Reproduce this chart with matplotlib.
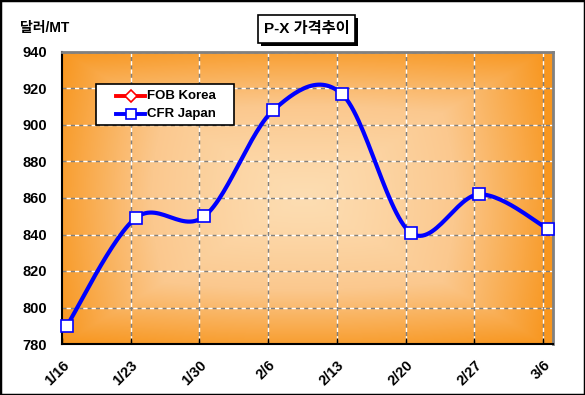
import numpy as np
import matplotlib
matplotlib.use("Agg")
import matplotlib.pyplot as plt
import matplotlib.transforms as mtrans
from matplotlib.lines import Line2D
from matplotlib.patches import Rectangle
from matplotlib.colors import LinearSegmentedColormap

plt.rcParams['font.family'] = ['Liberation Sans', 'Noto Sans CJK KR', 'DejaVu Sans']

dates = ["1/16", "1/23", "1/30", "2/6", "2/13", "2/20", "2/27", "3/6"]
cfr_japan = [790, 849, 850, 908, 917, 841, 862, 843]
fob_korea = [np.nan] * 8
series_names = ["FOB Korea", "CFR Japan"]
day_step = 7

W, H = 585, 395
fig = plt.figure(figsize=(5.85, 3.95), dpi=100)
fig.patch.set_facecolor('white')
fig.add_artist(Rectangle((0, 0), 1, 1, transform=fig.transFigure, fill=False,
                         edgecolor='black', linewidth=2.5))

def fx(px):
    return px / W

def fy(py):
    return 1 - py / H

ax = fig.add_axes([fx(62), fy(344), (553-62)/W, (344-52)/H])

xs = np.arange(len(dates)) * day_step + 0.5
xlo, xhi = 0, (len(dates) - 1) * day_step + 1.0
ylo, yhi = 780, 940

# gradient background (from center)
nx, ny = 400, 300
u = np.linspace(-1, 1, nx)
v = np.linspace(-1, 1, ny)
U, V = np.meshgrid(u, v)
T = np.clip(0.7 * np.maximum(np.abs(U), np.abs(V)) ** 1.4 + 0.3 * np.sqrt((U**2 + V**2) / 2), 0, 1)
cmap = LinearSegmentedColormap.from_list('g', ['#FDDDB2', '#FBC88E', '#F8961E'])
ax.imshow(T, cmap=cmap, extent=[xlo, xhi - 0.9, ylo, yhi], aspect='auto', zorder=0,
          interpolation='bilinear', vmin=0, vmax=1)
ax.add_patch(Rectangle((xhi - 0.95, ylo), 0.95, yhi - ylo, facecolor='#F8961E', edgecolor='none', zorder=0))

ax.set_xlim(xlo, xhi)
ax.set_ylim(ylo, yhi)

ticks_x = np.arange(len(dates)) * day_step
for yv in np.arange(800, 941, 20):
    ax.plot([xlo, xhi], [yv, yv], color='#808080', lw=1, dashes=(3, 3), zorder=1)
    ax.plot([xlo, xhi], [yv, yv], color='white', lw=1, dashes=(0, 3, 3, 0), zorder=1)
for xv in ticks_x[1:]:
    ax.plot([xv, xv], [ylo, yhi], color='#808080', lw=1, dashes=(3, 3), zorder=1)
    ax.plot([xv, xv], [ylo, yhi], color='white', lw=1, dashes=(0, 3, 3, 0), zorder=1)

def smooth(xp, yp, n=30):
    xp = np.asarray(xp, float); yp = np.asarray(yp, float)
    P = np.column_stack([xp, yp])
    out = []
    for i in range(len(P) - 1):
        p0 = P[i - 1] if i > 0 else P[i]
        p1 = P[i]; p2 = P[i + 1]
        p3 = P[i + 2] if i + 2 < len(P) else P[i + 1]
        c1 = p1 + (p2 - p0) / 6
        c2 = p2 - (p3 - p1) / 6
        t = np.linspace(0, 1, n)[:, None]
        seg = (1-t)**3*p1 + 3*(1-t)**2*t*c1 + 3*(1-t)*t**2*c2 + t**3*p2
        out.append(seg if i == 0 else seg[1:])
    s = np.vstack(out)
    return s[:, 0], s[:, 1]

sx, sy = smooth(xs, cfr_japan)
ax.plot(sx, sy, color='#0000FF', lw=3, zorder=3, solid_capstyle='round')
ax.plot(xs, cfr_japan, linestyle='none', marker='s', markersize=9, markerfacecolor='white',
        markeredgecolor='#0000FF', markeredgewidth=1.2, zorder=4, clip_on=False)
ax.plot(xs, fob_korea, color='red', marker='D', zorder=2)

ax.set_xticks(ticks_x)
ax.set_xticklabels(dates, rotation=45, ha='right', va='top', rotation_mode='anchor',
                   fontsize=10.5, fontweight='bold')
offset = mtrans.ScaledTranslation(-4/100, -2/100, fig.dpi_scale_trans)
for lab in ax.get_xticklabels():
    lab.set_transform(lab.get_transform() + offset)
ax.set_yticks(np.arange(780, 941, 20))
ax.set_yticklabels([str(v) for v in np.arange(780, 941, 20)], fontsize=10.5,
                   fontweight='bold')
ax.tick_params(axis='both', length=4, width=1, direction='in', pad=6)
ax.tick_params(axis='y', length=0, pad=11)
ax.tick_params(axis='x', pad=10)

for side in ['top', 'right']:
    ax.spines[side].set_color('#808080')
    ax.spines[side].set_linewidth(2)
for side in ['left', 'bottom']:
    ax.spines[side].set_color('black')
    ax.spines[side].set_linewidth(1.5)

# manual legend
fig.add_artist(Rectangle((fx(96), fy(125)), (234-96)/W, (125-84)/H, transform=fig.transFigure,
                         facecolor='white', edgecolor='black', lw=1.2, zorder=5))
leg_styles = [('red', 'D', 6), ('#0000FF', 's', 7.5)]
for i, (name, (c, m, ms)) in enumerate(zip(series_names, leg_styles)):
    yy = fy(96 + i * 18)
    fig.add_artist(Line2D([fx(116), fx(145)], [yy, yy], transform=fig.transFigure,
                          color=c, lw=2.8, zorder=6))
    fig.add_artist(Line2D([fx(131)], [yy], transform=fig.transFigure, marker=m, markersize=ms,
                          markerfacecolor='white', markeredgecolor=c, markeredgewidth=1.2,
                          linestyle='none', zorder=7))
    fig.text(fx(147), yy, name, ha='left', va='center', fontsize=9.5, fontweight='bold',
             zorder=7)

# title box with shadow
fig.add_artist(Rectangle((fx(261), fy(46)), 97/W, 28/H, transform=fig.transFigure,
                         facecolor='black', edgecolor='none', zorder=1))
fig.add_artist(Rectangle((fx(258), fy(43)), 97/W, 28/H, transform=fig.transFigure,
                         facecolor='white', edgecolor='black', lw=1.2, zorder=2))
fig.text(fx(306.5), fy(29), 'P-X 가격추이', ha='center', va='center', fontsize=11,
         fontweight='bold', zorder=3)

fig.text(fx(20), fy(28), '달러/MT', ha='left', va='center', fontsize=10, fontweight='bold')

fig.savefig('out.png', dpi=100)
